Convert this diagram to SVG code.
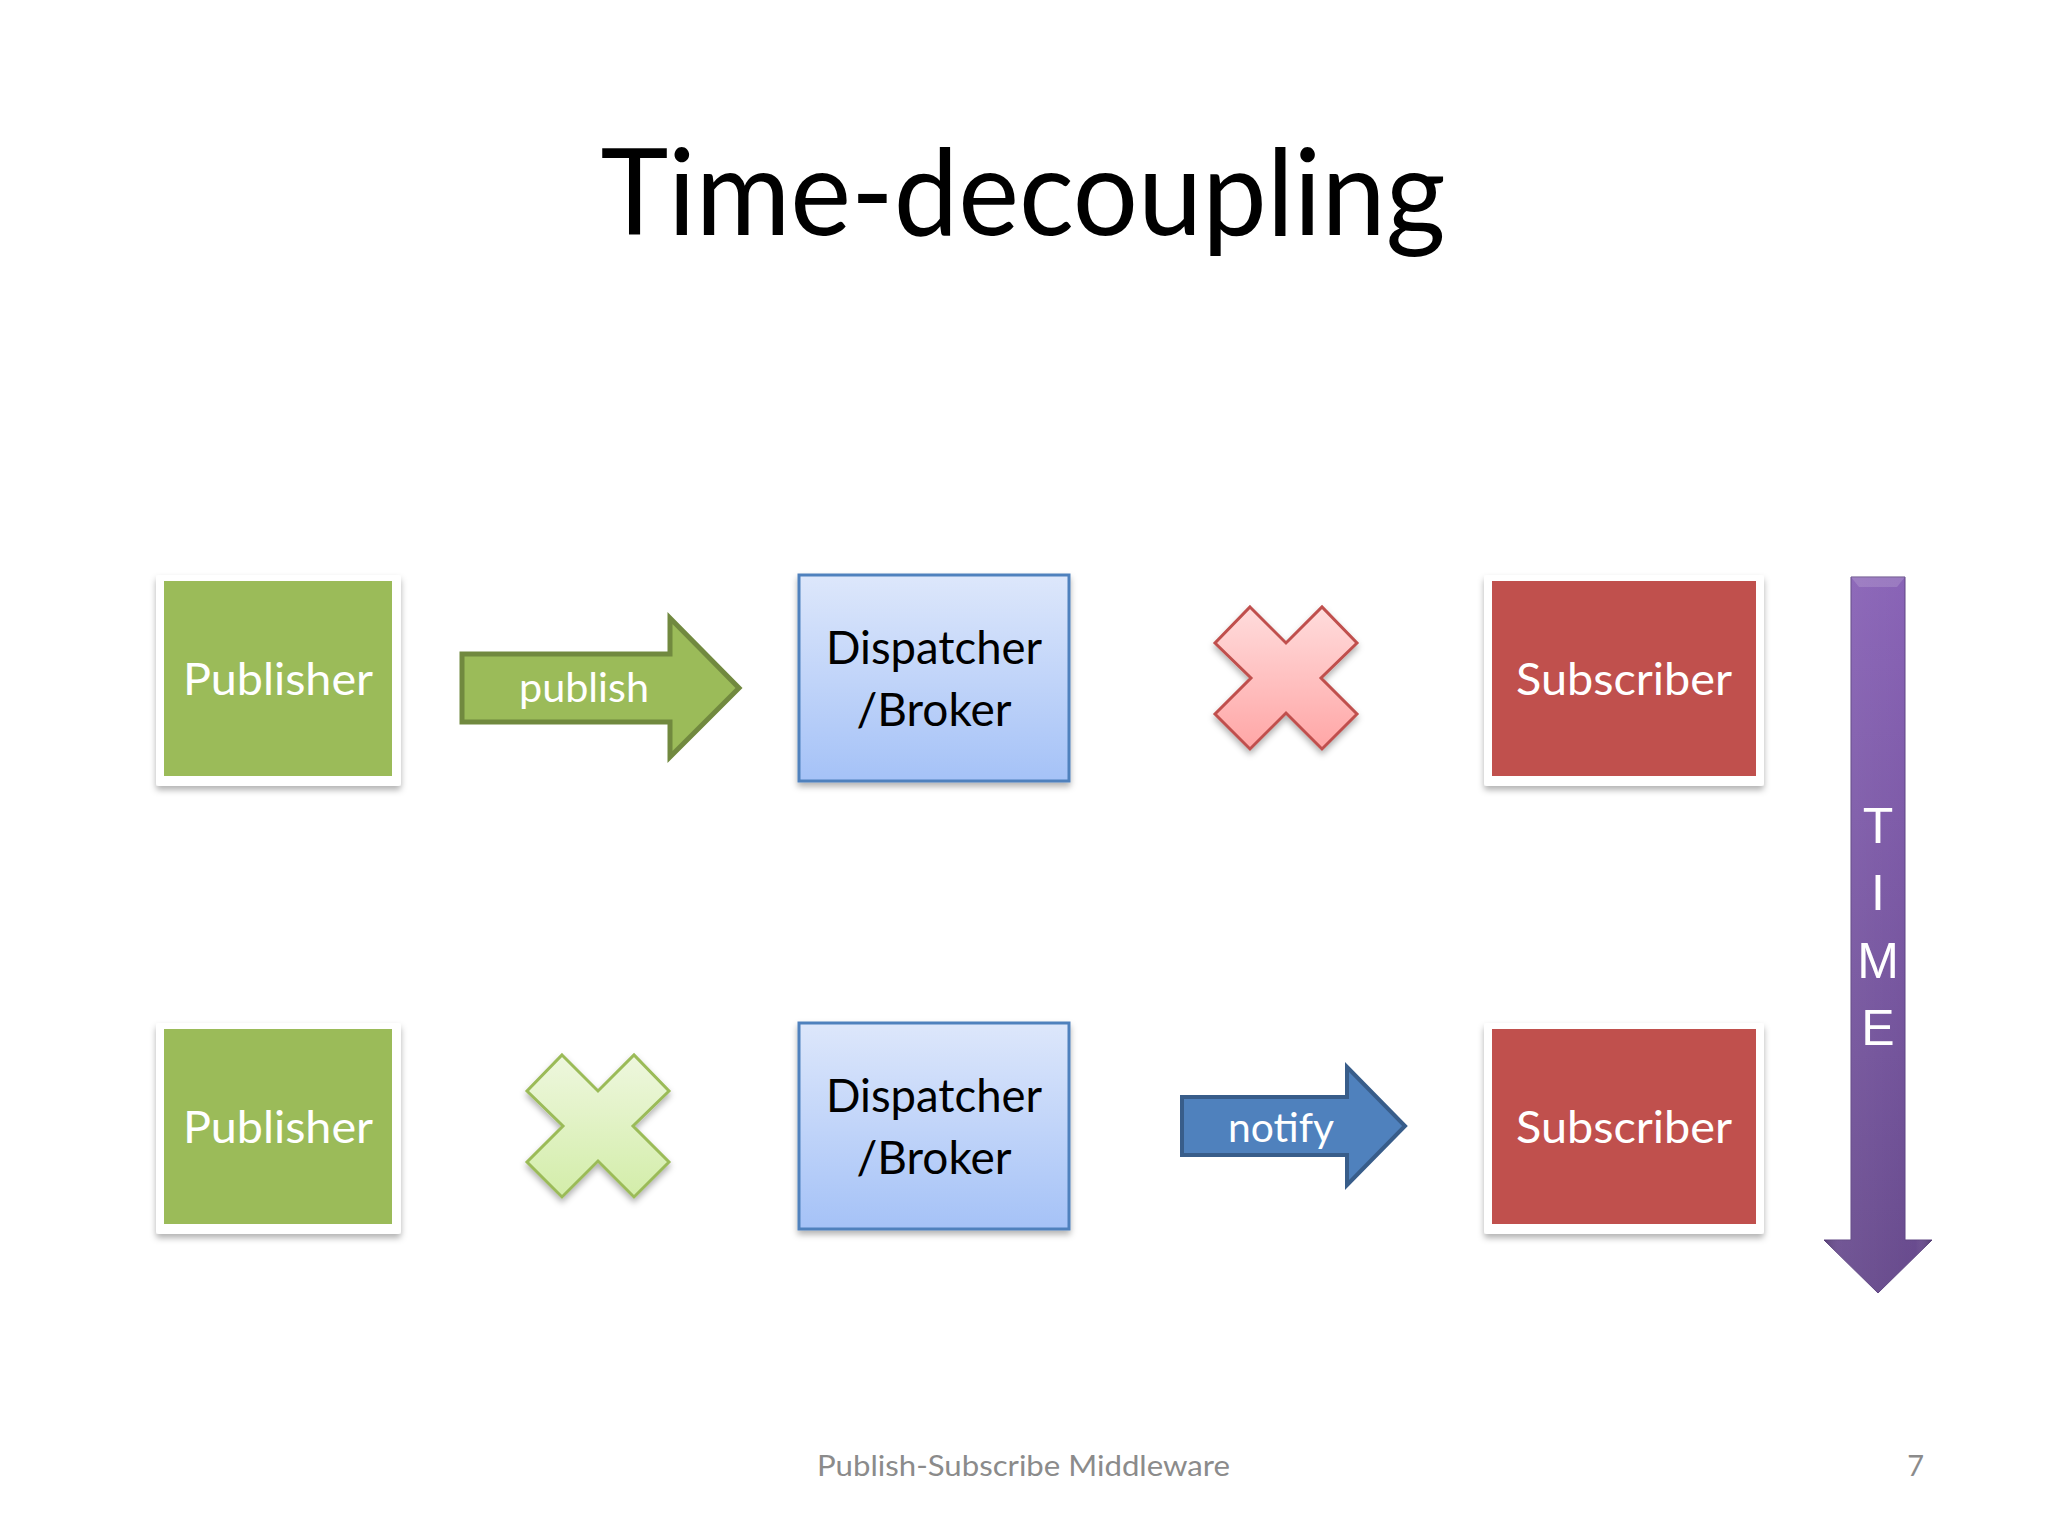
<svg xmlns="http://www.w3.org/2000/svg" width="2048" height="1536" viewBox="0 0 2048 1536">
  <defs>
    <style>
      .frame { fill: #FFFFFF; filter: url(#shadow); }
      .pub { fill: #9BBB59; }
      .sub { fill: #C0504D; }
      .broker { fill: url(#blueGrad); stroke: #4F81BD; stroke-width: 3; filter: url(#shadow); }
      .lbl { font-family: Lato, "Open Sans", "Liberation Sans", sans-serif; font-size: 45px; fill: #FFFFFF; text-anchor: middle; }
      .blbl { font-family: Lato, "Open Sans", "Liberation Sans", sans-serif; font-size: 46px; fill: #000000; text-anchor: middle; }
      .alb { font-family: Lato, "Open Sans", "Liberation Sans", sans-serif; font-size: 40px; fill: #FFFFFF; text-anchor: middle; }
      .time { font-family: "Liberation Sans", Arial, sans-serif; font-size: 50px; fill: #FFFFFF; text-anchor: middle; }
      .title { font-family: Lato, "Open Sans", "Liberation Sans", sans-serif; font-size: 121px; fill: #000000; text-anchor: middle; }
      .foot { font-family: Lato, "Open Sans", "Liberation Sans", sans-serif; font-size: 29px; fill: #8B8B8B; }
    </style>
    <filter id="shadow" x="-10%" y="-10%" width="120%" height="125%">
      <feDropShadow dx="0" dy="4" stdDeviation="3" flood-color="#000000" flood-opacity="0.3"/>
    </filter>
    <linearGradient id="blueGrad" x1="0" y1="0" x2="0" y2="1">
      <stop offset="0" stop-color="#DDE7FB"/>
      <stop offset="1" stop-color="#A5C2F7"/>
    </linearGradient>
    <linearGradient id="redXGrad" x1="0" y1="0" x2="0" y2="1">
      <stop offset="0" stop-color="#FFDCDC"/>
      <stop offset="1" stop-color="#FFA6A6"/>
    </linearGradient>
    <linearGradient id="greenXGrad" x1="0" y1="0" x2="0" y2="1">
      <stop offset="0" stop-color="#EEF7DE"/>
      <stop offset="1" stop-color="#D3EDA9"/>
    </linearGradient>
    <linearGradient id="purpleV" x1="0" y1="0" x2="0" y2="1">
      <stop offset="0" stop-color="#8862B6"/>
      <stop offset="1" stop-color="#674A8C"/>
    </linearGradient>
    <linearGradient id="purpleH" x1="0" y1="0" x2="1" y2="0">
      <stop offset="0" stop-color="#000000" stop-opacity="0.18"/>
      <stop offset="0.15" stop-color="#FFFFFF" stop-opacity="0.06"/>
      <stop offset="0.85" stop-color="#FFFFFF" stop-opacity="0.0"/>
      <stop offset="1" stop-color="#000000" stop-opacity="0.2"/>
    </linearGradient>
  </defs>

  <rect width="2048" height="1536" fill="#FFFFFF"/>

  <text class="title" x="1023" y="235" textLength="845" lengthAdjust="spacingAndGlyphs">Time-decoupling</text>

  <!-- Top row -->
  <g id="publisher-top">
    <rect class="frame" x="156" y="575" width="245" height="211" rx="3"/>
    <rect class="pub" x="164" y="581" width="228" height="195"/>
    <text class="lbl" x="278" y="695" textLength="190" lengthAdjust="spacingAndGlyphs">Publisher</text>
  </g>
  <g id="broker-top">
    <rect class="broker" x="799" y="575" width="270" height="206"/>
    <text class="blbl" x="934" y="664" textLength="216" lengthAdjust="spacingAndGlyphs">Dispatcher</text>
    <text class="blbl" x="934" y="726" textLength="155" lengthAdjust="spacingAndGlyphs">/Broker</text>
  </g>
  <g id="cross-top" filter="url(#shadow)">
    <polygon points="1250,607 1286,643 1322,607 1357,643 1321,678 1357,714 1322,749 1286,713 1250,749 1215,714 1251,678 1215,643" fill="url(#redXGrad)" stroke="#C0504D" stroke-width="3" stroke-linejoin="miter"/>
  </g>
  <g id="subscriber-top">
    <rect class="frame" x="1484" y="575" width="280" height="211" rx="3"/>
    <rect class="sub" x="1492" y="581" width="264" height="195"/>
    <text class="lbl" x="1624" y="695" textLength="216" lengthAdjust="spacingAndGlyphs">Subscriber</text>
  </g>

  <!-- Bottom row -->
  <g id="publisher-bottom">
    <rect class="frame" x="156" y="1023" width="245" height="211" rx="3"/>
    <rect class="pub" x="164" y="1029" width="228" height="195"/>
    <text class="lbl" x="278" y="1143" textLength="190" lengthAdjust="spacingAndGlyphs">Publisher</text>
  </g>
  <g id="cross-bottom" filter="url(#shadow)">
    <polygon points="562,1055 598,1091 634,1055 669,1091 633,1126 669,1162 634,1197 598,1161 562,1197 527,1162 563,1126 527,1091" fill="url(#greenXGrad)" stroke="#9BBB59" stroke-width="3"/>
  </g>
  <g id="broker-bottom">
    <rect class="broker" x="799" y="1023" width="270" height="206"/>
    <text class="blbl" x="934" y="1112" textLength="216" lengthAdjust="spacingAndGlyphs">Dispatcher</text>
    <text class="blbl" x="934" y="1174" textLength="155" lengthAdjust="spacingAndGlyphs">/Broker</text>
  </g>
  <g id="subscriber-bottom">
    <rect class="frame" x="1484" y="1023" width="280" height="211" rx="3"/>
    <rect class="sub" x="1492" y="1029" width="264" height="195"/>
    <text class="lbl" x="1624" y="1143" textLength="216" lengthAdjust="spacingAndGlyphs">Subscriber</text>
  </g>

  <!-- Connectors -->
  <g id="connectors">
    <g id="publish-arrow">
      <polygon points="462,654 670,654 670,618 739,688 670,757 670,722 462,722" fill="#9BBB59" stroke="#71893F" stroke-width="5" stroke-linejoin="miter"/>
      <text class="alb" x="584" y="702" textLength="130" lengthAdjust="spacingAndGlyphs">publish</text>
    </g>
    <g id="notify-arrow">
      <polygon points="1182,1097 1347,1097 1347,1067 1405,1126 1347,1185 1347,1155 1182,1155" fill="#4F81BD" stroke="#385D8A" stroke-width="4" stroke-linejoin="miter"/>
      <text class="alb" x="1281" y="1142" textLength="106" lengthAdjust="spacingAndGlyphs">notify</text>
    </g>
  </g>

  <!-- Time arrow -->
  <g id="time-arrow">
    <polygon points="1851,577 1905,577 1905,1240 1932,1240 1878,1293 1824,1240 1851,1240" fill="url(#purpleV)" stroke="#5E4582" stroke-width="1"/>
    <polygon points="1851,577 1905,577 1905,1240 1932,1240 1878,1293 1824,1240 1851,1240" fill="url(#purpleH)"/>
    <polygon points="1851,577 1905,577 1897,587 1859,587" fill="#FFFFFF" fill-opacity="0.15"/>
    <text class="time" x="1878" y="843">T</text>
    <text class="time" x="1878" y="910">I</text>
    <text class="time" x="1878" y="978">M</text>
    <text class="time" x="1878" y="1045">E</text>
  </g>

  <text class="foot" x="817" y="1476" textLength="413" lengthAdjust="spacingAndGlyphs">Publish-Subscribe Middleware</text>
  <text class="foot" x="1924" y="1476" text-anchor="end">7</text>
</svg>
